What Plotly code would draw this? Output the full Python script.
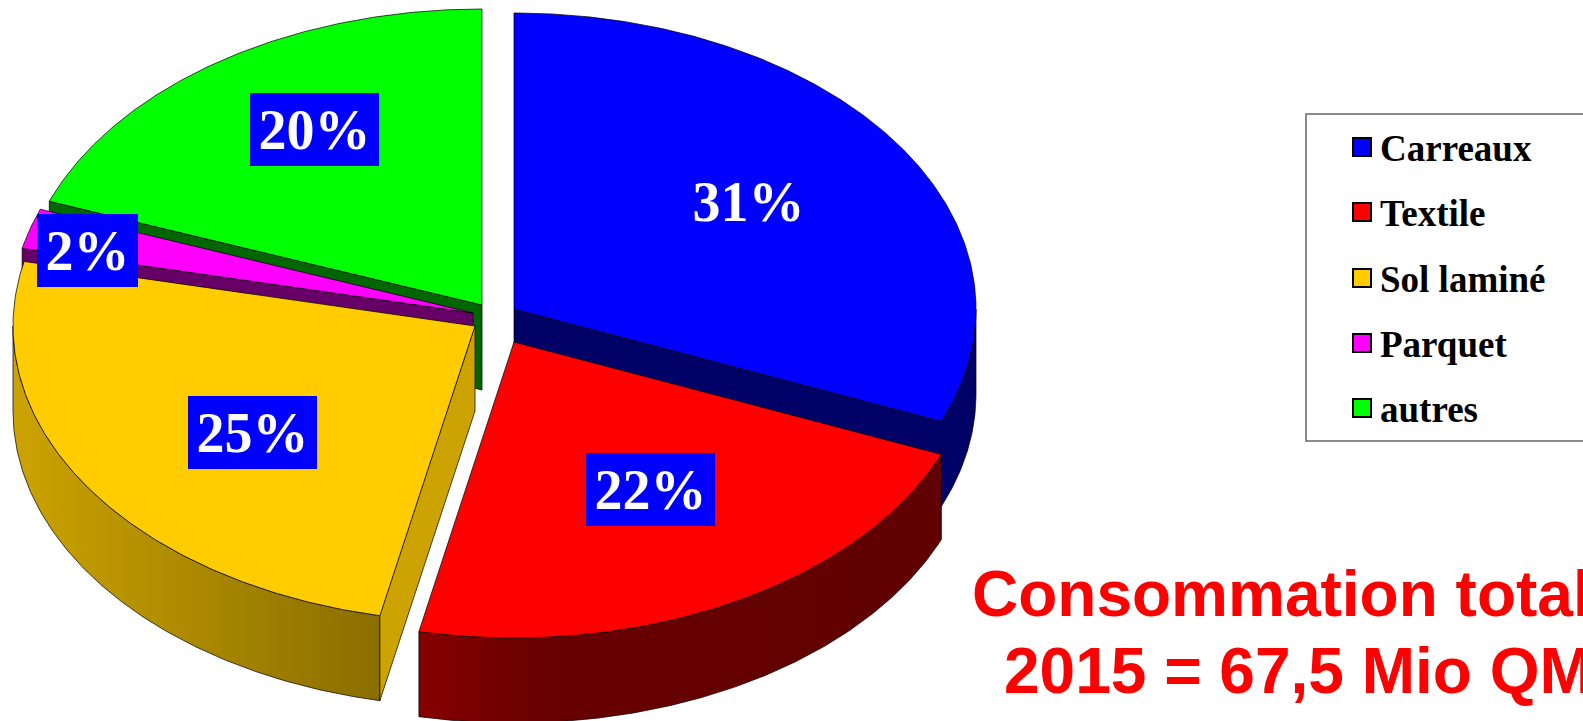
import numpy as np
import plotly.graph_objects as go

# ---- data ----
categories = ["Carreaux", "Textile", "Sol laminé", "Parquet", "autres"]
shares = [31.2, 22.1, 25.2, 2.2, 19.3]          # slice sizes as drawn
percent_labels = ["31%", "22%", "25%", "2%", "20%"]

# ---- styles ----
top_colors = ["#0000FF", "#FF0000", "#FFCC00", "#FF00FF", "#00FF00"]
cut_colors = ["#000066", "#660000", "#CCA300", "#660066", "#006600"]
wall_scales = [
    [[0, "#000066"], [1, "#000066"]],
    [[0, "#860000"], [0.25, "#680000"], [1, "#600000"]],
    [[0, "#CCA300"], [1, "#8A6E00"]],
    [[0, "#660066"], [1, "#660066"]],
    [[0, "#006600"], [1, "#006600"]],
]
edge = dict(color="rgba(0,0,0,0.8)", width=0.9)

# ---- layout of the pie (page pixels) ----
RX, RY, DEPTH = 462, 296, 85
apex_x = [514, 514, 475, 473, 482]
apex_y = [309, 342, 326, 313, 305]
paint_order = [4, 3, 2, 0, 1]

label_x = [748, 650, 252, 87, 314]
label_y = [201, 489, 432, 250, 129]
label_w = [129, 129, 129, 101, 129]
label_h = 73
label_bg = ["rgba(0,0,0,0)", "#0000FF", "#0000FF", "#0000FF", "#0000FF"]

legend_marker_x = 1362
legend_text_x = 1378
legend_y = [147, 212, 278, 343, 408]

ends = np.cumsum(shares) * 3.6
starts = ends - np.array(shares) * 3.6


def rim(i, a0, a1, drop=0.0):
    t = np.radians(np.linspace(a0, a1, max(int(abs(a1 - a0) * 2), 2)))
    return apex_x[i] + RX * np.sin(t), apex_y[i] - RY * np.cos(t) + drop


fig = go.Figure()


def poly(x, y, name, color=None, scale=None):
    kw = dict(fillgradient=dict(type="horizontal", colorscale=scale)) if scale else dict(fillcolor=color)
    fig.add_trace(go.Scatter(x=np.r_[x, x[0]], y=np.r_[y, y[0]], mode="lines", fill="toself",
                             line=edge, name=name, hoverinfo="name", showlegend=False, **kw))


for i in paint_order:
    a0, a1 = starts[i], ends[i]
    name = categories[i]
    # outer wall: only the part of the rim that faces the viewer
    w0, w1 = max(a0, 90), min(a1, 270)
    if w1 > w0:
        xt, yt = rim(i, w0, w1)
        xb, yb = rim(i, w1, w0, DEPTH)
        poly(np.r_[xt, xb], np.r_[yt, yb], name, scale=wall_scales[i])
    # radial cut faces that look towards the viewer
    for ang, visible in ((a0, np.sin(np.radians(a0)) < -1e-6), (a1, np.sin(np.radians(a1)) > 1e-6)):
        if visible:
            xr, yr = rim(i, ang, ang + 0.001)
            xr, yr = xr[0], yr[0]
            poly(np.array([apex_x[i], xr, xr, apex_x[i]]),
                 np.array([apex_y[i], yr, yr + DEPTH, apex_y[i] + DEPTH]), name, color=cut_colors[i])
    # top surface
    xt, yt = rim(i, a0, a1)
    poly(np.r_[apex_x[i], xt], np.r_[apex_y[i], yt], name, color=top_colors[i])

# legend swatches
fig.add_trace(go.Scatter(
    x=[legend_marker_x] * len(categories), y=legend_y, mode="markers", showlegend=False, hoverinfo="skip",
    marker=dict(symbol="square", size=18, color=top_colors, line=dict(color="#000000", width=2))))

shapes = [dict(type="rect", xref="x", yref="y", x0=1306, x1=1640, y0=114, y1=441,
               line=dict(color="#666666", width=1.5), fillcolor="rgba(0,0,0,0)", layer="below")]

annotations = []
for i, txt in enumerate(percent_labels):
    annotations.append(dict(x=label_x[i], y=label_y[i], xref="x", yref="y", text=f"<b>{txt}</b>", showarrow=False,
                            width=label_w[i], height=label_h, bgcolor=label_bg[i], borderpad=0, borderwidth=0,
                            align="center", valign="middle",
                            font=dict(family="Liberation Serif", size=56, color="#FFFFFF")))
for name, y in zip(categories, legend_y):
    annotations.append(dict(x=legend_text_x, y=y + 1.5, xref="x", yref="y", text=f"<b>{name}</b>", showarrow=False,
                            xanchor="left", yanchor="middle",
                            font=dict(family="Liberation Serif", size=37, color="#000000")))
annotations.append(dict(x=970, y=594, xref="x", yref="y", text="<b>Consommation totale</b>", showarrow=False,
                        xanchor="left", yanchor="middle", font=dict(family="Liberation Sans", size=64, color="#FF0000")))
annotations.append(dict(x=1002, y=671, xref="x", yref="y", text="<b>2015 = 67,5 Mio QM</b>", showarrow=False,
                        xanchor="left", yanchor="middle", font=dict(family="Liberation Sans", size=64, color="#FF0000")))

fig.update_layout(
    width=1583, height=721, margin=dict(l=0, r=0, t=0, b=0), paper_bgcolor="#FFFFFF", plot_bgcolor="#FFFFFF",
    xaxis=dict(range=[0, 1583], visible=False, fixedrange=True),
    yaxis=dict(range=[721, 0], visible=False, fixedrange=True),
    shapes=shapes, annotations=annotations, showlegend=False,
)
fig.write_html("out.html", config=dict(displayModeBar=False),
               post_script="document.body.style.margin='0';document.body.style.overflow='hidden';")
